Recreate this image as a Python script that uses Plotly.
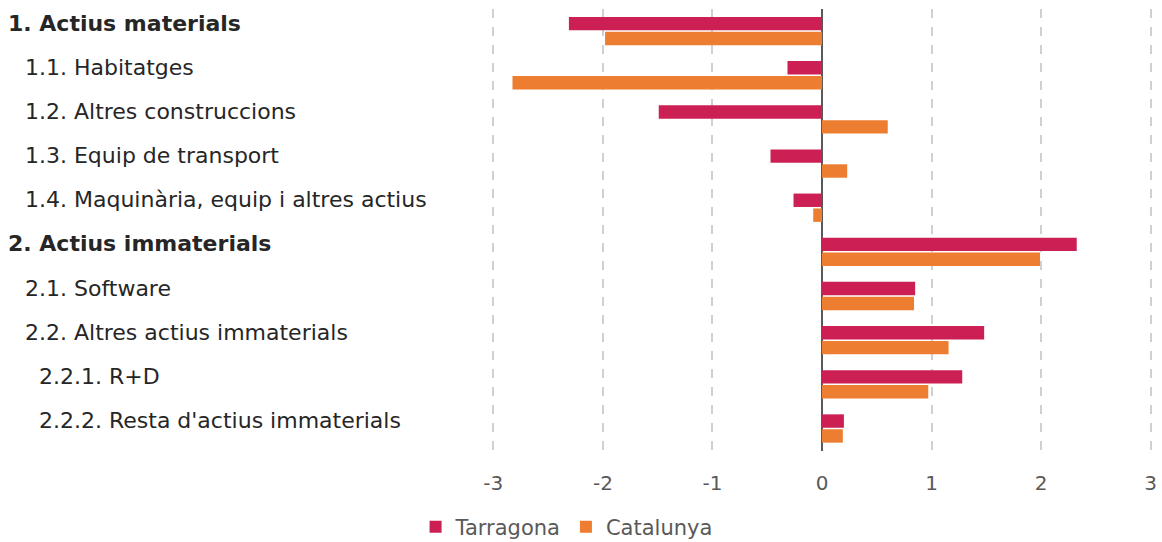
import plotly.graph_objects as go

categories = [
    "1. Actius materials",
    "1.1. Habitatges",
    "1.2. Altres construccions",
    "1.3. Equip de transport",
    "1.4. Maquinària, equip i altres actius",
    "2. Actius immaterials",
    "2.1. Software",
    "2.2. Altres actius immaterials",
    "2.2.1. R+D",
    "2.2.2. Resta d'actius immaterials",
]
levels = [0, 1, 1, 1, 1, 0, 1, 1, 2, 2]
tarragona = [-2.31, -0.315, -1.49, -0.47, -0.26, 2.325, 0.85, 1.48, 1.28, 0.20]
catalunya = [-1.98, -2.825, 0.60, 0.23, -0.08, 1.99, 0.84, 1.155, 0.97, 0.19]
x_ticks = [-3, -2, -1, 0, 1, 2, 3]

FONT = "DejaVu Sans"
fig = go.Figure()
fig.add_trace(go.Bar(y=categories, x=tarragona, orientation="h", name="Tarragona",
                     marker=dict(color="#CC2055", line=dict(width=0))))
fig.add_trace(go.Bar(y=categories, x=catalunya, orientation="h", name="Catalunya",
                     marker=dict(color="#ED7D31", line=dict(width=0))))

indent_x = {0: -0.736, 1: -0.711, 2: -0.69}
for cat, lvl in zip(categories, levels):
    fig.add_annotation(
        x=indent_x[lvl], xref="paper", y=cat, yref="y",
        text=f"<b>{cat}</b>" if lvl == 0 else cat,
        showarrow=False, xanchor="left", yanchor="middle", yshift=8,
        font=dict(family=FONT, size=22, color="#262626"),
    )

fig.update_layout(
    width=1162, height=542,
    margin=dict(l=492, r=10, t=9, b=91, autoexpand=False),
    paper_bgcolor="white", plot_bgcolor="white",
    barmode="group", bargap=0.325, bargroupgap=0.1,
    font=dict(family=FONT, size=20, color="#595959"),
    legend=dict(orientation="h", x=0.113, xanchor="center", y=-0.172, yanchor="middle",
                font=dict(family=FONT, size=21, color="#595959"),
                itemwidth=30, traceorder="normal"),
    showlegend=True,
)
fig.update_xaxes(
    range=[-3.012, 3.012], tickvals=x_ticks, ticktext=[str(v) for v in x_ticks],
    showgrid=True, gridcolor="#D0D0D0", gridwidth=1.5, griddash="dash",
    zeroline=True, zerolinecolor="#595959", zerolinewidth=2,
    showline=False, ticks="", ticklabelstandoff=18, ticklabeloverflow="allow",
    tickfont=dict(family=FONT, size=20, color="#595959"),
)
fig.update_yaxes(autorange="reversed", showticklabels=False, showgrid=False,
                 zeroline=False, showline=False, ticks="")

fig.write_html(
    "out.html",
    config={"displayModeBar": False},
    post_script="document.body.style.margin='0';document.body.style.overflow='hidden';",
)
